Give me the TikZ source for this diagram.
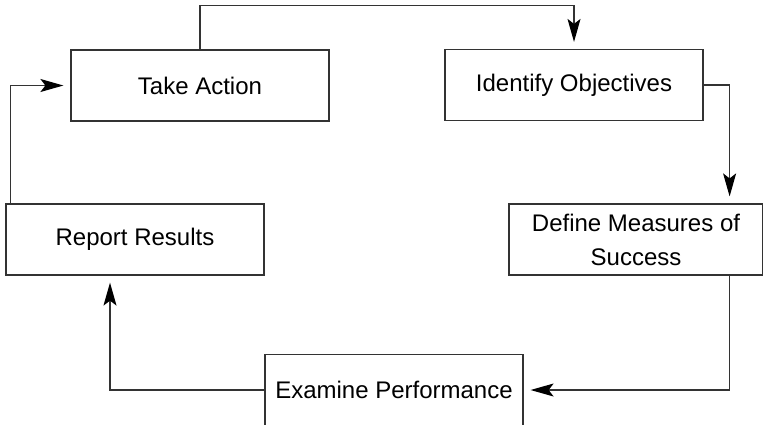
\documentclass[tikz,border=0pt]{standalone}
\usepackage{fontspec}
\setmainfont{Liberation Sans}
\usetikzlibrary{arrows.meta}

\begin{document}
\begin{tikzpicture}[x=0.5pt,y=-0.5pt,
        box/.style={draw=black!80, line width=0.6pt, rectangle, minimum width=129pt, minimum height=35.5pt, inner sep=0pt, align=center, font=\fontsize{12}{17}\selectfont},
        link/.style={draw=black!80, line width=0.6pt, -{Stealth[length=11.5pt,width=6.5pt,inset=2.5pt,black]}, shorten >=3.5pt}]
        \useasboundingbox (0,0) rectangle (763,424);
        \clip (0,0) rectangle (763,424);
        \node[box] (1) at (200,85.5) {Take Action};
        \node[box] (2) at (574,85) {Identify Objectives};
        \node[box, minimum width=127pt] (3) at (636,239.5) {Define Measures of\\Success};
        \node[box] (4) at (394,390) {Examine Performance};
        \node[box] (5) at (135,239.5) {Report Results};

        \path[link] (1.north) -- ++(0,-44) -| (2.north);
        \path[link] (2.east) -| ([xshift=-17pt]3.north east);
        \path[link] ([xshift=-17pt]3.south east) |- (4.east);
        \path[link] (4.west) -| ([xshift=-12.5pt]5.south);
        \path[link] ([xshift=2.5pt]5.north west) |- (1.west);
    \end{tikzpicture}
\end{document}
